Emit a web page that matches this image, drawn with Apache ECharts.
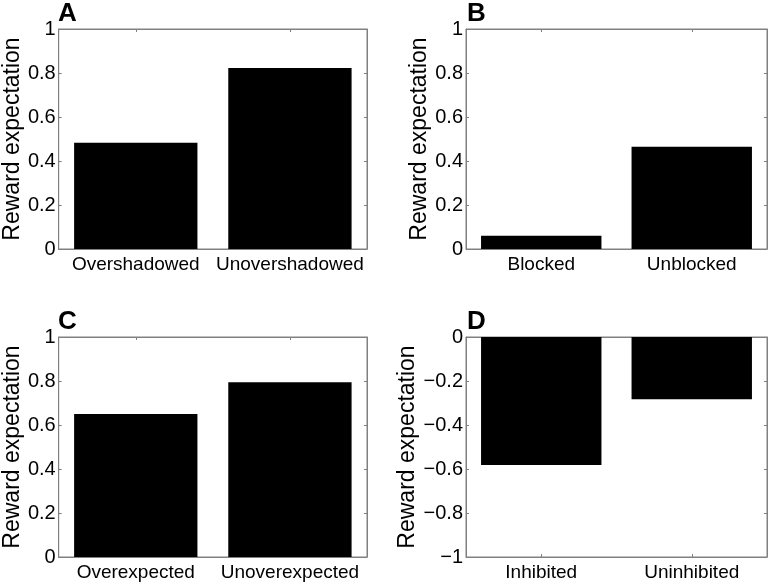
<!DOCTYPE html>
<html>
<head>
<meta charset="utf-8">
<script src="https://cdn.jsdelivr.net/npm/echarts@6/dist/echarts.min.js"></script>
<style>
html,body{margin:0;padding:0;background:#fff;}
#chart{width:778px;height:583px;}
</style>
</head>
<body>
<div id="chart"></div>
<script>
// ---- data ----
var panelLetters = ['A', 'B', 'C', 'D'];
var categoriesA = ['Overshadowed', 'Unovershadowed'];
var valuesA = [0.483, 0.823];
var categoriesB = ['Blocked', 'Unblocked'];
var valuesB = [0.06, 0.465];
var categoriesC = ['Overexpected', 'Unoverexpected'];
var valuesC = [0.65, 0.794];
var categoriesD = ['Inhibited', 'Uninhibited'];
var valuesD = [-0.582, -0.283];
var yRangeA = [0, 1];
var yRangeB = [0, 1];
var yRangeC = [0, 1];
var yRangeD = [-1, 0];
var yTickStep = 0.2;
var yTitle = 'Reward expectation';

var panels = [
  {cats: categoriesA, vals: valuesA, range: yRangeA, grid: {left: 57, top: 29, width: 310, height: 220}},
  {cats: categoriesB, vals: valuesB, range: yRangeB, grid: {left: 466, top: 29, width: 301, height: 220}},
  {cats: categoriesC, vals: valuesC, range: yRangeC, grid: {left: 57, top: 337, width: 310, height: 220}},
  {cats: categoriesD, vals: valuesD, range: yRangeD, grid: {left: 466, top: 337, width: 301, height: 220}}
];

var FONT = 'Liberation Sans, Arial, sans-serif';
var AXC = '#808080';
var grids = [], xAxes = [], yAxes = [], series = [], graphics = [];

function fmt(v) {
  var s = (Math.round(v * 10) / 10).toString();
  if (s === '-0') s = '0';
  return s.replace('-', '\u2212');
}

panels.forEach(function (p, i) {
  grids.push(Object.assign({containLabel: false, show: true, borderColor: AXC, borderWidth: 1}, p.grid));
  xAxes.push({
    type: 'category', gridIndex: i, data: p.cats, position: 'bottom',
    axisLine: {show: true, onZero: false, lineStyle: {color: AXC}},
    axisTick: {show: true, inside: true, alignWithLabel: true, length: 3, lineStyle: {color: AXC}},
    axisLabel: {color: '#000', fontSize: 19, fontFamily: FONT, margin: 6, interval: 0, hideOverlap: false},
    splitLine: {show: false}
  });
  xAxes.push({
    type: 'category', gridIndex: i, data: p.cats, position: 'top',
    axisLine: {show: true, onZero: false, lineStyle: {color: AXC}},
    axisTick: {show: true, inside: true, alignWithLabel: true, length: 3, lineStyle: {color: AXC}},
    axisLabel: {show: false}, splitLine: {show: false}
  });
  yAxes.push({
    type: 'value', gridIndex: i, min: p.range[0], max: p.range[1], interval: yTickStep,
    position: 'left',
    name: yTitle, nameLocation: 'middle', nameGap: 33, nameRotate: 90,
    nameTextStyle: {color: '#000', fontSize: 23, fontFamily: FONT},
    axisLine: {show: true, onZero: false, lineStyle: {color: AXC}},
    axisTick: {show: true, inside: true, length: 3, lineStyle: {color: AXC}},
    axisLabel: {color: '#000', fontSize: 20, fontFamily: FONT, margin: 3, formatter: fmt},
    splitLine: {show: false}
  });
  yAxes.push({
    type: 'value', gridIndex: i, min: p.range[0], max: p.range[1], interval: yTickStep,
    position: 'right',
    axisLine: {show: true, onZero: false, lineStyle: {color: AXC}},
    axisTick: {show: true, inside: true, length: 3, lineStyle: {color: AXC}},
    axisLabel: {show: false}, splitLine: {show: false}
  });
  series.push({
    type: 'bar', xAxisIndex: 2 * i, yAxisIndex: 2 * i, data: p.vals,
    barWidth: '80%', itemStyle: {color: '#000'}, silent: true, animation: false
  });
  graphics.push({
    type: 'text', left: p.grid.left + 1, top: p.grid.top - 28,
    style: {text: panelLetters[i], font: 'bold 26px ' + FONT, fill: '#000'}
  });
});

var chart = echarts.init(document.getElementById('chart'), null, {renderer: 'canvas'});
chart.setOption({
  animation: false,
  backgroundColor: '#fff',
  grid: grids, xAxis: xAxes, yAxis: yAxes, series: series, graphic: graphics
});
</script>
</body>
</html>
